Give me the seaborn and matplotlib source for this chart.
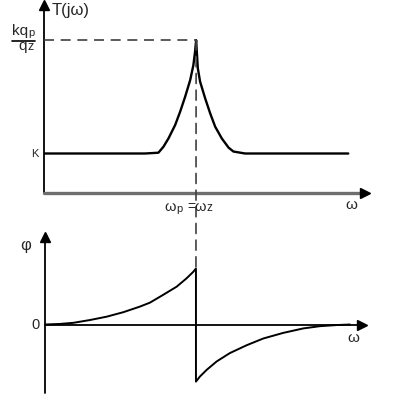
import numpy as np
import pandas as pd
import matplotlib
matplotlib.use("Agg")
import matplotlib.pyplot as plt
from matplotlib.patches import ConnectionPatch
import seaborn as sns

# amplitude response (omega in units of wp, T in units of K)
w_mag = [0.0, 0.664, 0.752, 0.785, 0.818, 0.862, 0.895, 0.928, 0.961, 0.982, 0.993, 1.0,
         1.011, 1.026, 1.059, 1.092, 1.125, 1.169, 1.213, 1.245, 1.322, 2.0]
t_mag = [1.0, 1.0, 1.02, 1.17, 1.38, 1.72, 2.06, 2.44, 2.86, 3.24, 3.58, 3.87,
         3.16, 2.82, 2.40, 2.02, 1.68, 1.38, 1.15, 1.05, 1.0, 1.0]

# phase response
w_phi = [0.0, 0.099, 0.188, 0.298, 0.409, 0.519, 0.629, 0.695, 0.783, 0.872, 0.938, 0.982, 1.0,
         1.0, 1.026, 1.071, 1.137, 1.225, 1.336, 1.446, 1.578, 1.711, 1.821, 1.932, 2.02]
phi = [0.0, 0.01, 0.03, 0.08, 0.14, 0.22, 0.32, 0.39, 0.53, 0.675, 0.825, 0.94, 1.0,
       -1.02, -0.93, -0.81, -0.66, -0.51, -0.37, -0.25, -0.15, -0.07, -0.03, -0.01, 0.0]

peak = 3.87
W, H = 395, 418

sns.set_style("white")
plt.rcParams['font.family'] = ['Liberation Sans', 'DejaVu Sans']

fig = plt.figure(figsize=(W / 100, H / 100), dpi=100)

def px_axes(x0, y0, x1, y1):
    # axes placed by pixel box (top-left origin)
    return fig.add_axes([x0 / W, 1 - y1 / H, (x1 - x0) / W, (y1 - y0) / H])

ax1 = px_axes(44, 5, 365, 193)
ax2 = px_axes(45, 237, 362, 393)

df1 = pd.DataFrame({"w": w_mag, "T": t_mag})
df2 = pd.DataFrame({"w": w_phi, "phi": phi})

sns.lineplot(data=df1, x="w", y="T", ax=ax1, color="black", lw=1.7,
             sort=False, estimator=None)
sns.lineplot(data=df2, x="w", y="phi", ax=ax2, color="black", lw=1.4,
             sort=False, estimator=None)

ax1.set_xlim(0, 2.11)
ax1.set_ylim(0, 188 / 39.5)
ax2.set_xlim(0, 2.10)
ax2.set_ylim(-68.5 / 56, 87.5 / 56)

for ax in (ax1, ax2):
    ax.set_xlabel("")
    ax.set_ylabel("")
    ax.set_xticks([])
    ax.set_yticks([])
    for s in ax.spines.values():
        s.set_visible(False)
    ax.patch.set_alpha(0)

# top axes: arrows
ax1.axvline(0, color="black", lw=1.3, clip_on=False)
ax1.axhline(0, color="#6e6e6e", lw=2.4, clip_on=False)
ax1.plot(0, 1, "^", color="black", ms=7, transform=ax1.transAxes, clip_on=False)
ax1.plot(1, 0, ">", color="black", ms=7, transform=ax1.transAxes, clip_on=False)

# bottom axes
ax2.axvline(0, color="black", lw=1.3, clip_on=False)
ax2.axhline(0, color="black", lw=1.3, clip_on=False)
ax2.plot(0, 1, "^", color="black", ms=7, transform=ax2.transAxes, clip_on=False)
ax2.plot(1, 0, ">", color="black", ms=7,
         transform=ax2.get_yaxis_transform(), clip_on=False)

# dashed guides
ax1.plot([0, 1.0], [peak, peak], color="#404040", lw=1.2, dashes=(6, 4))
con = ConnectionPatch(xyA=(1.0, peak), coordsA=ax1.transData,
                      xyB=(1.0, 1.0), coordsB=ax2.transData,
                      color="#404040", lw=1.2, linestyle=(0, (6, 4)))
fig.add_artist(con)

def ftext(x, y, s, size=11, ha="left", va="baseline"):
    fig.text(x / W, 1 - y / H, s, fontsize=size, ha=ha, va=va)

ftext(52, 15.5, "T(jω)", size=12)
ftext(12, 35.5, "kq", size=11)
ftext(28, 36.5, "p", size=8)
fig.add_artist(plt.Line2D([12 / W, 35 / W], [1 - 40.5 / H, 1 - 40.5 / H],
                          color="black", lw=1.2))
ftext(18, 50, "q", size=11)
ftext(27, 50, "z", size=9)
ftext(31, 157, "K", size=8)
ftext(176, 211, "ω", size=10.5, ha="right")
ftext(176.5, 212, "p", size=8)
ftext(191, 211, "=", size=10, ha="center")
ftext(206, 211, "ω", size=10.5, ha="right")
ftext(206.5, 211, "z", size=8.5)
ftext(345, 209, "ω", size=11)
ftext(25.5, 246, "φ", size=12, ha="center", va="center")
ftext(35.5, 325, "0", size=10.5, ha="center", va="center")
ftext(347, 342, "ω", size=11)

fig.savefig("out.png", dpi=100)
